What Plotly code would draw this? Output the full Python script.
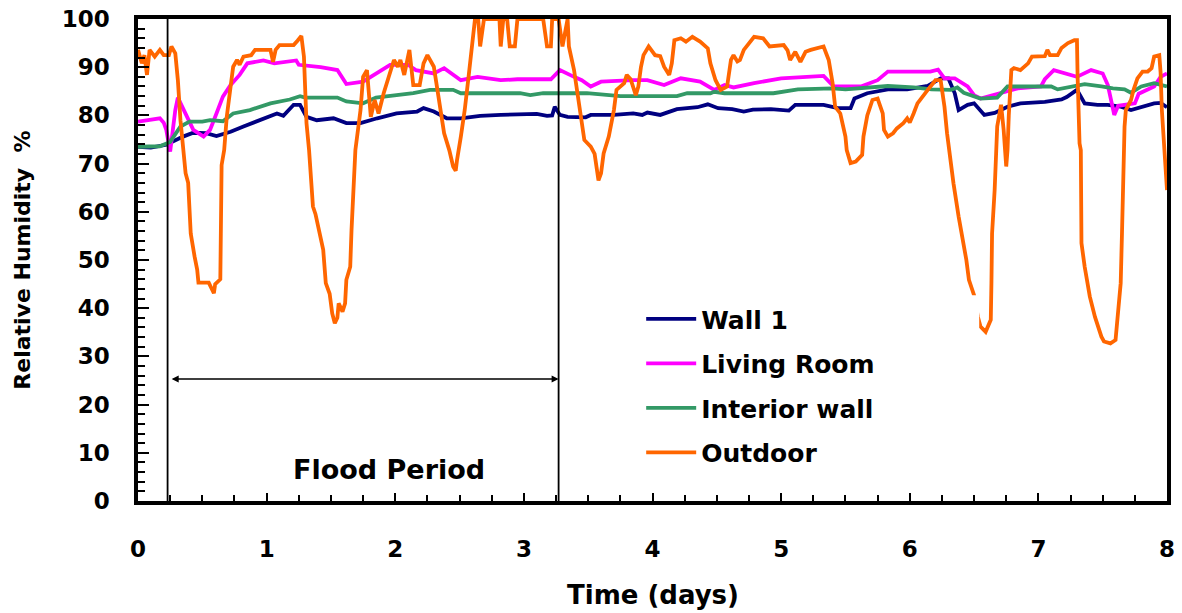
import plotly.graph_objects as go

# ---------------- data ----------------
wall1_x = [0.00, 0.10, 0.22, 0.30, 0.35, 0.43, 0.53, 0.61, 0.72, 0.82, 0.975, 1.08, 1.13, 1.21, 1.26,
           1.31, 1.39, 1.52, 1.62, 1.73, 1.86, 2.01, 2.17, 2.22, 2.30, 2.40, 2.51, 2.66, 2.82, 3.10,
           3.18, 3.22, 3.24, 3.26, 3.28, 3.34, 3.44, 3.48, 3.52, 3.70, 3.85, 3.92, 3.96, 4.06, 4.19,
           4.35, 4.43, 4.51, 4.62, 4.71, 4.78, 4.92, 5.06, 5.11, 5.33, 5.44, 5.54, 5.57, 5.67, 5.83,
           5.98, 6.14, 6.24, 6.30, 6.35, 6.38, 6.45, 6.50, 6.58, 6.66, 6.76, 6.86, 7.05, 7.18, 7.22,
           7.30, 7.36, 7.46, 7.54, 7.64, 7.72, 7.80, 7.90, 7.95, 8.00]
wall1_y = [73.5, 73.3, 73.9, 75.0, 75.6, 76.4, 76.3, 75.7, 76.6, 77.7, 79.4, 80.4, 79.9, 82.2, 82.2,
           79.7, 79.0, 79.4, 78.4, 78.4, 79.4, 80.4, 80.8, 81.5, 80.8, 79.4, 79.4, 79.9, 80.1, 80.3,
           79.9, 80.0, 81.8, 80.8, 80.1, 79.7, 79.6, 79.6, 80.1, 80.1, 80.4, 80.1, 80.6, 80.1, 81.3,
           81.7, 82.3, 81.5, 81.3, 80.8, 81.2, 81.3, 81.0, 82.2, 82.2, 81.5, 81.5, 83.5, 84.6, 85.4,
           85.4, 86.1, 87.7, 87.7, 84.6, 81.1, 82.2, 82.5, 80.1, 80.5, 81.8, 82.5, 82.8, 83.3, 83.8,
           85.3, 82.5, 82.2, 82.2, 81.8, 81.1, 81.8, 82.5, 82.6, 81.7]

living_x = [0.00, 0.17, 0.20, 0.22, 0.25, 0.29, 0.31, 0.34, 0.38, 0.43, 0.51, 0.56, 0.61, 0.66, 0.72,
            0.79, 0.85, 0.975, 1.06, 1.23, 1.25, 1.42, 1.55, 1.62, 1.75, 1.88, 1.96, 2.10, 2.16, 2.30,
            2.38, 2.51, 2.64, 2.82, 2.95, 3.21, 3.28, 3.39, 3.45, 3.52, 3.60, 3.85, 3.96, 4.09, 4.22,
            4.37, 4.48, 4.56, 4.63, 4.79, 5.00, 5.20, 5.33, 5.41, 5.62, 5.75, 5.83, 6.16, 6.22, 6.27,
            6.35, 6.45, 6.50, 6.55, 6.71, 6.84, 7.02, 7.05, 7.12, 7.30, 7.41, 7.50, 7.54, 7.59, 7.62,
            7.75, 7.78, 7.90, 7.95, 8.00]
living_y = [78.7, 79.4, 78.5, 77.0, 72.5, 81.1, 83.7, 82.0, 79.7, 77.0, 75.6, 77.0, 80.4, 83.9, 86.3,
            88.4, 90.8, 91.4, 90.8, 91.4, 90.5, 90.0, 89.4, 86.5, 87.0, 89.1, 90.5, 90.5, 89.4, 88.7,
            89.8, 87.3, 88.0, 87.3, 87.5, 87.5, 89.4, 88.0, 87.3, 86.0, 87.0, 87.3, 87.3, 86.3, 87.7,
            87.0, 85.3, 86.3, 85.8, 86.7, 87.7, 88.0, 88.2, 86.0, 86.0, 87.3, 89.1, 89.1, 89.5, 87.7,
            87.7, 86.0, 84.2, 83.5, 84.6, 85.6, 86.0, 87.5, 89.4, 88.0, 89.4, 88.7, 86.3, 80.1, 82.0,
            82.5, 84.5, 86.0, 88.0, 88.7]

interior_x = [0.00, 0.17, 0.25, 0.33, 0.40, 0.50, 0.56, 0.66, 0.74, 0.87, 1.03, 1.18, 1.26, 1.30, 1.55,
              1.62, 1.75, 1.85, 2.01, 2.14, 2.27, 2.45, 2.51, 2.97, 3.05, 3.15, 3.49, 3.75, 4.19, 4.27,
              4.45, 4.48, 4.56, 4.94, 5.13, 5.40, 5.50, 5.67, 5.83, 6.03, 6.17, 6.32, 6.37, 6.42, 6.55,
              6.68, 6.76, 6.86, 7.10, 7.15, 7.25, 7.36, 7.49, 7.58, 7.67, 7.72, 7.80, 7.90, 8.00]
interior_y = [73.5, 73.6, 74.5, 77.7, 78.7, 78.7, 79.0, 78.8, 80.4, 81.1, 82.5, 83.3, 84.0, 83.7, 83.7,
              82.9, 82.5, 83.7, 84.2, 84.6, 85.3, 85.3, 84.6, 84.6, 84.2, 84.6, 84.6, 84.0, 84.0, 84.6,
              84.6, 84.9, 84.6, 84.6, 85.4, 85.6, 85.4, 85.8, 86.1, 85.8, 85.4, 85.3, 85.8, 84.7, 83.5,
              83.7, 86.0, 86.0, 86.0, 85.4, 86.0, 86.5, 86.0, 85.6, 85.4, 84.7, 86.0, 86.7, 86.0]

outdoor_x = [0.00, 0.03, 0.05, 0.07, 0.09, 0.13, 0.17, 0.20, 0.24, 0.26, 0.29, 0.31, 0.33, 0.35, 0.37,
             0.39, 0.40, 0.41, 0.44, 0.46, 0.47, 0.55, 0.59, 0.60, 0.64, 0.645, 0.65, 0.67, 0.69, 0.72,
             0.74, 0.77, 0.79, 0.82, 0.88, 0.91, 1.03, 1.05, 1.07, 1.10, 1.21, 1.24, 1.27, 1.29, 1.31,
             1.33, 1.34, 1.36, 1.38, 1.44, 1.46, 1.49, 1.51, 1.53, 1.55, 1.56, 1.59, 1.61, 1.62, 1.65,
             1.66, 1.68, 1.69, 1.73, 1.75, 1.78, 1.81, 1.84, 1.87, 1.91, 1.95, 1.99, 2.02, 2.04, 2.07,
             2.11, 2.14, 2.19, 2.22, 2.25, 2.30, 2.33, 2.35, 2.38, 2.42, 2.45, 2.47, 2.48, 2.51, 2.54,
             2.57, 2.60, 2.62, 2.645, 2.66, 2.69, 2.81, 2.82, 2.84, 2.87, 2.89, 2.93, 2.95, 3.15, 3.18,
             3.21, 3.22, 3.27, 3.30, 3.34, 3.35, 3.39, 3.44, 3.47, 3.52, 3.55, 3.58, 3.60, 3.62, 3.66,
             3.70, 3.72, 3.78, 3.80, 3.83, 3.87, 3.89, 3.91, 3.93, 3.97, 4.02, 4.06, 4.09, 4.13, 4.15,
             4.17, 4.22, 4.26, 4.31, 4.37, 4.43, 4.45, 4.49, 4.53, 4.58, 4.61, 4.63, 4.66, 4.68, 4.71,
             4.79, 4.86, 4.91, 5.02, 5.05, 5.07, 5.11, 5.15, 5.19, 5.23, 5.33, 5.37, 5.40, 5.42, 5.46,
             5.50, 5.51, 5.54, 5.58, 5.63, 5.64, 5.67, 5.71, 5.75, 5.79, 5.80, 5.83, 5.87, 5.90, 5.95,
             5.98, 6.00, 6.03, 6.06, 6.14, 6.20, 6.24, 6.27, 6.29, 6.31, 6.34, 6.38, 6.41, 6.44, 6.46,
             6.50, 6.53, 6.55, 6.59, 6.63, 6.635, 6.64, 6.66, 6.67, 6.68, 6.71, 6.73, 6.75, 6.76, 6.77,
             6.79, 6.81, 6.86, 6.92, 6.95, 7.05, 7.07, 7.09, 7.15, 7.18, 7.23, 7.28, 7.30, 7.305, 7.32,
             7.33, 7.335, 7.36, 7.38, 7.40, 7.44, 7.49, 7.51, 7.56, 7.60, 7.61, 7.625, 7.64, 7.65, 7.66,
             7.665, 7.67, 7.68, 7.72, 7.74, 7.77, 7.81, 7.85, 7.88, 7.90, 7.94, 7.95, 7.96, 7.98, 7.99,
             8.00]
outdoor_y = [93.6, 90.8, 92.5, 88.4, 93.6, 92.2, 93.6, 92.5, 92.5, 94.3, 92.9, 87.3, 79.0, 72.8, 68.0,
             66.0, 61.8, 55.5, 50.7, 48.0, 45.3, 45.3, 43.1, 45.0, 46.0, 56.2, 69.7, 72.8, 79.7, 86.0,
             90.1, 91.5, 90.5, 92.2, 92.5, 93.6, 93.6, 91.1, 93.6, 94.6, 94.6, 95.5, 96.5, 92.2, 78.4,
             72.8, 68.7, 61.1, 59.5, 52.1, 45.2, 43.0, 38.9, 36.9, 38.0, 41.0, 39.3, 41.0, 45.9, 48.6,
             56.2, 68.7, 72.8, 81.1, 88.0, 89.4, 79.7, 83.2, 80.4, 84.6, 88.4, 91.5, 90.1, 91.5, 88.4,
             93.6, 86.3, 86.3, 90.8, 92.5, 90.1, 85.3, 81.1, 76.3, 72.8, 69.4, 68.5, 70.7, 75.6, 81.1,
             88.0, 94.3, 100.0, 100.0, 94.3, 100.0, 100.0, 94.3, 100.0, 100.0, 94.3, 94.3, 100.0, 100.0, 94.3,
             94.3, 100.0, 100.0, 94.3, 100.0, 94.3, 89.4, 81.1, 74.9, 73.5, 72.0, 66.5, 68.0, 72.1, 75.6,
             81.1, 85.3, 86.7, 88.4, 87.5, 84.2, 86.0, 90.0, 92.5, 94.3, 92.5, 92.3, 90.1, 88.4, 90.8,
             95.6, 96.0, 95.3, 96.3, 95.3, 93.9, 90.8, 87.3, 85.3, 86.0, 91.5, 92.5, 91.2, 91.5, 93.6,
             96.3, 96.0, 94.3, 94.6, 93.5, 91.5, 93.2, 91.1, 93.2, 93.6, 94.3, 91.5, 86.7, 81.8, 80.4,
             75.6, 72.8, 70.1, 70.4, 71.8, 75.6, 80.0, 83.2, 83.5, 80.4, 77.0, 75.6, 76.3, 77.3, 78.4,
             79.4, 78.5, 80.4, 82.5, 85.3, 87.3, 87.3, 81.8, 76.3, 71.5, 65.9, 59.0, 55.0, 50.0, 45.9,
             42.7, 38.2, 36.2, 35.1, 37.6, 45.2, 55.5, 64.5, 72.8, 77.7, 82.2, 77.0, 69.4, 72.8, 80.0,
             89.4, 89.8, 89.4, 90.8, 92.2, 92.3, 93.6, 92.5, 92.5, 94.0, 95.0, 95.6, 95.6, 88.0, 74.2,
             72.8, 53.5, 48.6, 45.0, 42.4, 38.2, 34.1, 33.1, 32.7, 33.4, 36.9, 41.0, 45.2, 55.5, 67.3,
             72.8, 77.7, 81.1, 83.2, 85.3, 87.7, 89.1, 89.1, 89.8, 92.2, 92.5, 89.0, 81.1, 72.1, 68.0,
             64.5]

series_names = ["Wall 1", "Living Room", "Interior wall", "Outdoor"]
series_colors = ["#000080", "#FF00FF", "#339966", "#FF6600"]

flood_start = 0.23
flood_end = 3.27
flood_arrow_level = 25.3
flood_label = "Flood Period"
flood_label_x = 1.95
flood_label_y = 6.6

x_ticks = [0, 1, 2, 3, 4, 5, 6, 7, 8]
y_ticks = [0, 10, 20, 30, 40, 50, 60, 70, 80, 90, 100]

# ---------------- figure ----------------
FONT = "DejaVu Sans, Liberation Sans, Arial, sans-serif"
fig = go.Figure()

series = [(wall1_x, wall1_y), (living_x, living_y), (interior_x, interior_y), (outdoor_x, outdoor_y)]
for (xs, ys), name, color in zip(series, series_names, series_colors):
    fig.add_trace(go.Scatter(
        x=xs, y=ys, mode="lines", name=name, legendgroup=name,
        line=dict(color=color, width=3.8),
    ))

# vertical markers of flood period
for xv in (flood_start, flood_end):
    fig.add_shape(type="line", xref="x", yref="y", x0=xv, x1=xv, y0=0, y1=100,
                  line=dict(color="black", width=1.8), layer="above")

# white box behind legend (hides part of outdoor curve like the reference)
fig.add_shape(type="rect", xref="x", yref="y", x0=3.83, x1=6.54, y0=8, y1=42.7,
              fillcolor="white", line=dict(width=0), layer="above")

# double-headed arrow
fig.add_annotation(x=flood_end, y=flood_arrow_level, ax=flood_start + 0.02, ay=flood_arrow_level,
                   xref="x", yref="y", axref="x", ayref="y", text="", showarrow=True,
                   arrowhead=2, startarrowhead=2, arrowside="end+start",
                   arrowsize=1, startarrowsize=1, arrowwidth=1.4, arrowcolor="black")

fig.add_annotation(x=flood_label_x, y=flood_label_y, xref="x", yref="y",
                   text=flood_label, showarrow=False,
                   font=dict(family=FONT, size=27, color="black", weight="bold"))

# axis titles
fig.add_annotation(x=-0.113, y=0.5, xref="paper", yref="paper", text="Relative Humidity  %",
                   textangle=-90, showarrow=False, xanchor="center", yanchor="middle",
                   font=dict(family=FONT, size=22, color="black", weight="bold"))
fig.add_annotation(x=0.5, y=-0.195, xref="paper", yref="paper", text="Time (days)",
                   showarrow=False, xanchor="center", yanchor="middle",
                   font=dict(family=FONT, size=26, color="black", weight="bold"))

axis_common = dict(
    showgrid=False, zeroline=False, showline=True, linecolor="black", linewidth=3.5,
    mirror=True, ticks="inside", tickcolor="black", tickwidth=1.5, automargin=False,
    tickfont=dict(family=FONT, size=23, color="black", weight="bold"),
)

fig.update_xaxes(range=[0, 8], tickmode="array", tickvals=x_ticks, ticklen=8,
                 ticklabelstandoff=25,
                 minor=dict(dtick=0.25, ticks="inside", ticklen=6, tickcolor="black", tickwidth=1.5),
                 **axis_common)
fig.update_yaxes(range=[0, 100], tickmode="array", tickvals=y_ticks, ticklen=11,
                 ticklabelstandoff=20,
                 minor=dict(dtick=2, ticks="inside", ticklen=7, tickcolor="black", tickwidth=1.5),
                 **axis_common)

fig.update_layout(
    width=1182, height=613,
    margin=dict(l=138, r=15, t=19, b=112),
    paper_bgcolor="white", plot_bgcolor="white",
    showlegend=True,
    legend=dict(x=0.489, y=0.425, xanchor="left", yanchor="top",
                bgcolor="rgba(255,255,255,0)", borderwidth=0,
                font=dict(family=FONT, size=25, color="black", weight="bold"),
                itemwidth=50, tracegroupgap=9, traceorder="grouped"),
)

fig.write_html("out.html", config={"displayModeBar": False},
               post_script="document.body.style.margin='0';document.body.style.overflow='hidden';")
